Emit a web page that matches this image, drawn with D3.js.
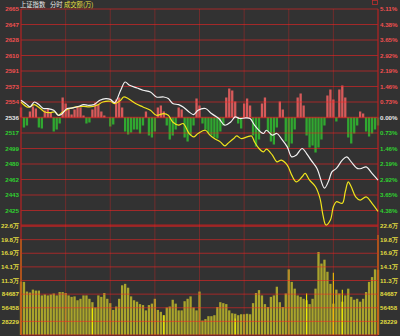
<!DOCTYPE html>
<html><head><meta charset="utf-8">
<script src="https://cdn.jsdelivr.net/npm/d3@7/dist/d3.min.js"></script>
<style>html,body{margin:0;padding:0;background:#323232;overflow:hidden}</style>
</head><body>
<svg id="c" width="400" height="336"></svg>
<script>
// ---------- data ----------
const basePrice = 2536.4;      // previous close
const priceStep = 18.51;       // 0.73% grid step
const priceLabels = ["2665","2647","2628","2610","2591","2573","2554","2536","2517","2499","2480","2462","2443","2425"];
const pctLabels = ["5.11%","4.38%","3.65%","2.92%","2.19%","1.46%","0.73%","0.00%","0.73%","1.46%","2.19%","2.92%","3.65%","4.38%"];
const volTickValues = [225832,197603,169374,141145,112916,84687,56458,28229];
const volTickLabels = ["22.6万","19.8万","16.9万","14.1万","11.3万","84687","56458","28229"];
const titleParts = ["上证指数","分时","成交额(万)"];

// index line (white), minutes from open
const whiteMin = [0,4,6,9,12,15,18,22,25,27,31,35,39,42,45,49,53,57,60,63,67,70,73,78,82,87,91,96,99,102,106,109,113,116,119,124,128,133,137,141,144,147,151,154,157,161,163,165,169,172,175,179,182,185,189,192,195,199,204,207,209,212,216,219,222,226,229,232,236,240];
const whitePrice = [2557.0,2551.8,2549.0,2554.9,2551.8,2547.1,2547.1,2545.0,2539.1,2539.9,2547.1,2547.8,2549.8,2551.8,2551.0,2551.8,2557.0,2559.0,2558.1,2554.2,2568.9,2578.8,2574.8,2571.6,2568.9,2566.8,2560.9,2560.9,2559.0,2553.0,2551.8,2549.0,2543.0,2539.9,2545.0,2547.1,2541.1,2535.2,2527.2,2531.1,2537.1,2535.2,2535.9,2535.2,2527.2,2519.2,2517.3,2521.2,2515.3,2517.3,2511.3,2501.3,2489.4,2491.4,2499.4,2493.4,2485.5,2475.6,2452.1,2461.6,2471.5,2475.6,2485.5,2489.4,2483.4,2475.6,2475.6,2477.5,2469.6,2461.6];

// unweighted line (yellow)
const yellowMin = [0,4,6,9,13,16,20,23,25,28,33,37,42,46,51,55,60,63,67,69,72,77,82,87,91,96,99,102,106,109,113,116,119,124,127,130,134,137,139,143,145,148,152,155,157,160,163,165,169,172,175,179,182,185,189,191,194,198,201,203,205,208,210,212,216,218,220,222,225,228,232,236,240];
const yellowPrice = [2554.9,2549.0,2549.0,2551.8,2547.1,2543.0,2542.3,2543.0,2539.1,2543.0,2547.1,2549.0,2549.8,2549.0,2551.0,2554.9,2555.8,2553.0,2557.0,2560.9,2559.0,2553.0,2549.0,2545.0,2539.1,2541.1,2539.1,2531.1,2527.2,2529.2,2517.3,2513.2,2517.3,2521.2,2515.3,2511.3,2507.3,2502.5,2505.4,2511.3,2514.4,2511.3,2513.2,2514.4,2507.3,2499.4,2495.4,2498.6,2491.4,2483.4,2485.5,2479.5,2467.6,2459.6,2465.6,2469.6,2461.6,2453.7,2439.8,2419.9,2408.0,2414.0,2429.8,2435.8,2433.9,2447.7,2459.6,2453.7,2441.7,2437.8,2441.7,2433.9,2424.2];

// buy/sell strength bars, one per 2 minutes (positive red, negative green)
const flowValues = [10,-10,-8,6,11,9,-10,-11,7,9,5,-14,-12,-6,20,14,8,3,8,11,10,2,-6,-5,8,15,13,6,2,0,-9,-7,18,20,10,-14,-17,-15,-12,-12,-16,-8,6,-18,-20,-14,10,12,6,-8,-22,-18,-12,10,8,-20,-24,-18,-8,19,12,-6,-12,-16,-18,-20,-21,-14,-8,20,29,27,16,-6,-11,14,19,12,-18,-29,-22,14,20,-14,-24,-27,-10,16,8,-24,-30,-26,-12,20,24,12,-18,-30,-28,-35,-30,-22,-8,22,28,18,-4,28,32,20,-20,-26,-16,-8,6,4,-14,-19,-16,-12,-8];

// turnover, 万, one per 2 minutes
const volumeWan = [11.0,11.0,9.0,8.8,9.4,9.2,9.2,8.2,8.4,8.2,8.4,8.6,8.2,8.9,8.9,8.7,8.2,7.9,8.0,7.2,7.5,8.2,8.2,7.5,6.8,5.7,8.2,7.9,8.7,7.5,6.6,5.2,5.9,7.5,10.3,10.6,9.8,8.0,7.2,6.9,6.4,6.2,5.1,6.2,6.5,7.5,5.2,4.8,4.1,5.7,5.9,7.3,6.5,5.1,5.1,7.0,7.5,8.0,5.7,5.1,9.0,3.0,3.3,3.9,3.9,4.1,5.8,6.8,6.6,6.4,5.1,4.5,4.4,4.1,4.3,4.3,4.4,4.3,6.6,8.7,9.3,8.2,6.4,5.8,7.9,8.2,10.0,6.8,5.8,8.6,13.6,11.0,9.6,8.2,7.9,7.5,7.2,6.4,7.5,9.6,17.2,14.8,15.6,13.1,10.6,6.5,9.4,8.6,6.9,8.2,9.6,7.9,7.3,7.5,6.9,7.5,8.9,11.0,12.0,13.6,13.5];

// highlighted single-minute bars
const brightMin = [0,48,96,144,192,210,216,240];
const brightWan = [19.9,5.7,4.1,3.4,8.6,12.9,9.4,20.7];

// ---------- drawing ----------
const svg = d3.select("#c");
const L = 21, R = 378, T = 9, MB = 226, VB = 335;
const x = d3.scaleLinear().domain([0,240]).range([L,R]);
const y = d3.scaleLinear().domain([basePrice-7*priceStep, basePrice+7*priceStep]).range([MB,T]);
const yZero = y(basePrice);
const f = d3.scaleLinear().domain([-100,100]).range([yZero+100, yZero-100]);
const v = d3.scaleLinear().domain([0, volTickValues[0]]).range([VB, MB]);

svg.append("rect").attr("width",400).attr("height",336).attr("fill","#323232");

const slotW = 2.3;
// flow bars
svg.append("g").selectAll("rect").data(flowValues).join("rect")
  .attr("x",(d,i)=>x(i*2)-slotW/2)
  .attr("width",slotW)
  .attr("y",d=>d>=0?f(d):yZero)
  .attr("height",d=>Math.abs(f(d)-yZero))
  .attr("fill",d=>d>=0?"#d65a5a":"#30a830");

// volume bars
svg.append("g").selectAll("rect").data(volumeWan).join("rect")
  .attr("x",(d,i)=>x(i*2)-slotW/2)
  .attr("width",slotW)
  .attr("y",d=>v(d*10000))
  .attr("height",d=>VB-v(d*10000))
  .attr("fill","#a9a42c");
svg.append("g").selectAll("line").data(brightMin).join("line")
  .attr("x1",d=>x(d)).attr("x2",d=>x(d))
  .attr("y1",(d,i)=>v(brightWan[i]*10000)).attr("y2",VB)
  .attr("stroke","#f2f000").attr("stroke-width",1.1);

// grid
const grid = svg.append("g");
for (let k=0;k<=14;k++){
  const yy = y(basePrice+(7-k)*priceStep);
  grid.append("line").attr("x1",L).attr("x2",R).attr("y1",yy).attr("y2",yy)
    .attr("stroke","#ff2222").attr("stroke-opacity",0.55).attr("stroke-width",k===7?1.4:1);
}
volTickValues.forEach(t=>{
  grid.append("line").attr("x1",L).attr("x2",R).attr("y1",v(t)).attr("y2",v(t))
    .attr("stroke","#ff2222").attr("stroke-opacity",0.55);
});
grid.append("line").attr("x1",L).attr("x2",R).attr("y1",MB-1).attr("y2",MB-1).attr("stroke","#b02020");
grid.append("line").attr("x1",L).attr("x2",R).attr("y1",VB).attr("y2",VB).attr("stroke","#b02020");
d3.range(30,240,30).forEach(m=>{
  grid.append("line").attr("x1",x(m)).attr("x2",x(m)).attr("y1",T).attr("y2",VB)
    .attr("stroke","#ff2222").attr("stroke-opacity",0.3);
});
[0,240].forEach(m=>{
  grid.append("line").attr("x1",x(m)).attr("x2",x(m)).attr("y1",T).attr("y2",VB)
    .attr("stroke","#b82222").attr("stroke-width",1.2);
});

// lines
const lineGen = (mins)=>d3.line().x((d,i)=>x(mins[i])).y(d=>y(d)).curve(d3.curveCatmullRom.alpha(0.5));
svg.append("path").attr("d",lineGen(yellowMin)(yellowPrice)).attr("fill","none").attr("stroke","#f0e41c").attr("stroke-width",1.2);
svg.append("path").attr("d",lineGen(whiteMin)(whitePrice)).attr("fill","none").attr("stroke","#f2f2f2").attr("stroke-width",1.2);

// labels
const fnt = "Liberation Sans, Arial, sans-serif";
const colFor = k => k<7?"#f05050":(k===7?"#e8e8e8":"#30d030");
priceLabels.forEach((t,k)=>{
  svg.append("text").attr("x",19).attr("y",y(basePrice+(7-k)*priceStep)).attr("dy","0.35em")
    .attr("text-anchor","end").attr("font-family",fnt).attr("font-size",6.2).attr("font-weight","bold")
    .attr("fill",colFor(k)).text(t);
});
pctLabels.forEach((t,k)=>{
  svg.append("text").attr("x",380).attr("y",y(basePrice+(7-k)*priceStep)).attr("dy","0.35em")
    .attr("text-anchor","start").attr("font-family",fnt).attr("font-size",6.2).attr("font-weight","bold")
    .attr("fill",colFor(k)).text(t);
});
volTickValues.forEach((t,i)=>{
  svg.append("text").attr("x",19).attr("y",v(t)).attr("dy","0.35em")
    .attr("text-anchor","end").attr("font-family",fnt).attr("font-size",6.2).attr("font-weight","bold")
    .attr("fill","#e0dc40").text(volTickLabels[i]);
  svg.append("text").attr("x",380).attr("y",v(t)).attr("dy","0.35em")
    .attr("text-anchor","start").attr("font-family",fnt).attr("font-size",6.2).attr("font-weight","bold")
    .attr("fill","#e0dc40").text(volTickLabels[i]);
});

// title
const cjk = "Noto Sans CJK SC, sans-serif";
const tx = [20,50,64], tc = ["#e8e8e8","#e8e8e8","#e8e040"];
titleParts.forEach((t,i)=>{
  svg.append("text").attr("x",tx[i]).attr("y",7).attr("font-family",cjk).attr("font-size",6.3)
    .attr("fill",tc[i]).text(t);
});
svg.append("rect").attr("x",372.5).attr("y",0.5).attr("width",5).attr("height",4)
  .attr("fill","none").attr("stroke","#c03030").attr("stroke-width",0.8);
</script>
</body></html>
